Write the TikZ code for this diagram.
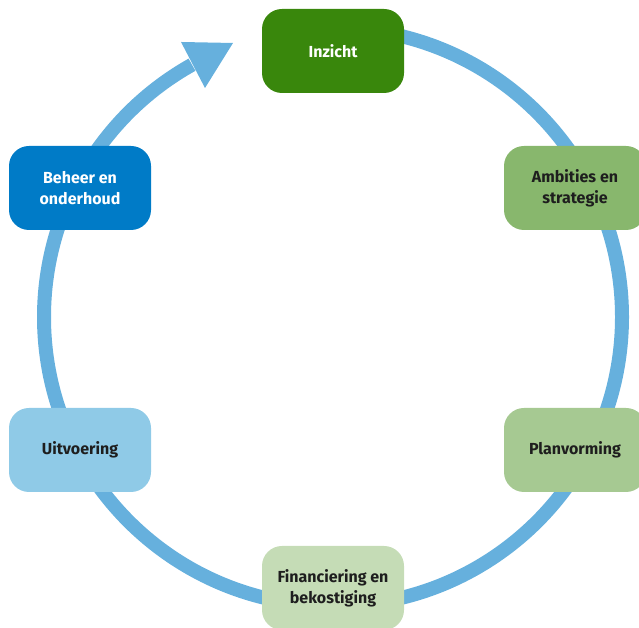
\documentclass[tikz,border=0pt]{standalone}
\usepackage{fontspec}
\setmainfont{Fira Sans}
\definecolor{ringblue}{RGB}{102,176,221}
\definecolor{rogreen}{RGB}{57,135,12}
\definecolor{greenA}{RGB}{136,183,109}
\definecolor{greenB}{RGB}{166,201,146}
\definecolor{greenC}{RGB}{197,220,182}
\definecolor{roblue}{RGB}{0,123,199}
\definecolor{blueB}{RGB}{143,202,231}
\definecolor{darktext}{RGB}{30,30,30}
\tikzset{
  phase/.style={rounded corners=20pt, minimum width=142pt, minimum height=84pt,
    inner sep=0pt, align=center, font=\bfseries\fontsize{16}{21}\selectfont, text=darktext},
}
\begin{document}
\begin{tikzpicture}[x=1pt,y=1pt]
\useasboundingbox (0,0) rectangle (639,628);
\clip (0,0) rectangle (639,628);
\coordinate (c) at (333,311);
% ring
\draw[ringblue, line width=14pt] (c) ++(90:289) arc[start angle=90, end angle=-240.8, radius=289];
\coordinate (tip) at (233,585);
\coordinate (ba) at (181,586);
\coordinate (bb) at (205,540);
\fill[ringblue] (tip) -- (ba) -- (bb) -- cycle;
% phases
\node[phase, fill=rogreen, text=white] (inzicht) at (333,577) {Inzicht};
\node[phase, fill=greenA] (ambities) at (575,440) {Ambities en\\strategie};
\node[phase, fill=greenB] (plan) at (575,178) {Planvorming};
\node[phase, fill=greenC] (fin) at (333,40) {Financiering en\\bekostiging};
\node[phase, fill=blueB] (uit) at (80,178) {Uitvoering};
\node[phase, fill=roblue, text=white] (beheer) at (80,440) {Beheer en\\onderhoud};
\end{tikzpicture}
\end{document}
